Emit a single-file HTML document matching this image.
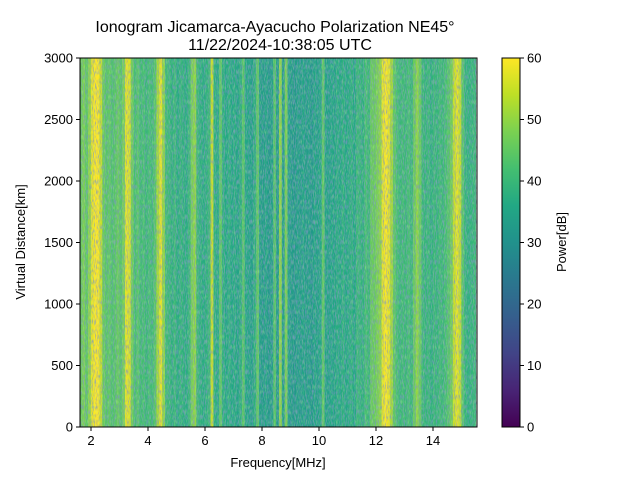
<!DOCTYPE html>
<html><head><meta charset="utf-8">
<style>body{margin:0;background:#fff}svg text{font-family:"Liberation Sans","DejaVu Sans",sans-serif;fill:#000}</style>
</head><body>
<svg id="chart" width="640" height="480" viewBox="0 0 640 480" xmlns="http://www.w3.org/2000/svg">
<defs>
<linearGradient id="vir" x1="0" y1="1" x2="0" y2="0">
<stop offset="0" stop-color="#440154"/><stop offset="0.1" stop-color="#482475"/><stop offset="0.2" stop-color="#414487"/><stop offset="0.3" stop-color="#355f8d"/><stop offset="0.4" stop-color="#2a788e"/><stop offset="0.5" stop-color="#21918c"/><stop offset="0.6" stop-color="#22a884"/><stop offset="0.7" stop-color="#44bf70"/><stop offset="0.8" stop-color="#7ad151"/><stop offset="0.9" stop-color="#bddf26"/><stop offset="1" stop-color="#fde725"/>
</linearGradient>
<filter id="noise" x="0" y="0" width="100%" height="100%">
<feTurbulence type="fractalNoise" baseFrequency="0.9 0.2" numOctaves="2" seed="3"/>
<feColorMatrix type="matrix" values="0 0 0 0 0.2  0 0 0 0 0.3  0 0 0 0 0.55  0 0 0 2.4 -1.05"/>
</filter>
<filter id="noise2" x="0" y="0" width="100%" height="100%">
<feTurbulence type="fractalNoise" baseFrequency="0.9 0.2" numOctaves="2" seed="11"/>
<feColorMatrix type="matrix" values="0 0 0 0 0.5  0 0 0 0 0.82  0 0 0 0 0.35  0 0 0 2.2 -1.0"/>
</filter>
<clipPath id="plotclip"><rect x="80" y="58" width="397" height="369"/></clipPath>
</defs>
<text x="275" y="32" font-size="16" text-anchor="middle">Ionogram Jicamarca-Ayacucho Polarization NE45°</text>
<text x="280" y="50" font-size="16" text-anchor="middle">11/22/2024-10:38:05 UTC</text>
<g id="heat" clip-path="url(#plotclip)"></g>
<rect x="80" y="58" width="397" height="369" filter="url(#noise2)" opacity="0.5"/>
<rect x="80" y="58" width="397" height="369" filter="url(#noise)" opacity="0.8"/>
<rect x="80" y="58" width="397" height="369" fill="none" stroke="#000" stroke-width="1"/>
<g id="xt"></g>
<g id="yt"></g>
<text x="278" y="467" font-size="13" text-anchor="middle">Frequency[MHz]</text>
<text transform="translate(25,242) rotate(-90)" font-size="13" text-anchor="middle">Virtual Distance[km]</text>
<rect x="502" y="58" width="18" height="369" fill="url(#vir)" stroke="#000" stroke-width="1"/>
<g id="ct"></g>
<text transform="translate(566,242) rotate(-90)" font-size="13" text-anchor="middle">Power[dB]</text>
</svg>
<script>
const freqStart = 1.6, freqStep = 0.1;
const power = [44,46,48,45,50,58,60,60,55,46,44,45,43,44,46,44,48,58,57,47,42,44,41,42,40,42,41,44,52,58,50,41,40,38,40,37,39,38,37,40,48,50,40,38,37,38,40,55,38,37,45,38,36,38,36,37,35,38,44,36,35,34,38,45,34,33,35,32,34,44,33,50,34,48,34,33,32,34,33,35,33,34,32,35,34,36,45,35,34,36,35,37,36,38,36,37,38,36,40,39,38,42,40,46,46,48,50,58,60,58,52,45,42,40,41,40,42,40,46,50,46,40,39,40,38,40,39,41,40,42,44,47,55,58,55,44,39,38,39,40];
const xTicks = [2,4,6,8,10,12,14];
const yTicks = [0,500,1000,1500,2000,2500,3000];
const cTicks = [0,10,20,30,40,50,60];
const X0=80,X1=477,Y0=427,Y1=58;
const fx = f => 91 + (f-2)*28.5;
const fy = d => Y0 - d/3000*(Y0-Y1);
const cy = v => Y0 - v/60*(Y0-Y1);
const stops=["#440154","#482475","#414487","#355f8d","#2a788e","#21918c","#22a884","#44bf70","#7ad151","#bddf26","#fde725"];
function vir(v){let t=Math.max(0,Math.min(1,v/60))*10;let i=Math.min(9,Math.floor(t)),u=t-i;
const a=stops[i],b=stops[i+1];const h=(s,k)=>parseInt(s.substr(1+2*k,2),16);
return "rgb("+[0,1,2].map(k=>Math.round(h(a,k)+(h(b,k)-h(a,k))*u)).join(",")+")";}
const NS="http://www.w3.org/2000/svg";
const heat=document.getElementById("heat");
power.forEach((p,i)=>{const f=freqStart+i*freqStep;
const r=document.createElementNS(NS,"rect");


const xa=fx(f)-3,xb=fx(f+freqStep)-3;
r.setAttribute("x",xa);r.setAttribute("width",xb-xa+0.5);r.setAttribute("y",Y1);r.setAttribute("height",Y0-Y1);
r.setAttribute("fill",vir(p));heat.appendChild(r);});
function tick(g,x1,y1,x2,y2,tx,ty,label,anchor){
const l=document.createElementNS(NS,"line");


l.setAttribute("x1",x1);l.setAttribute("y1",y1);l.setAttribute("x2",x2);l.setAttribute("y2",y2);l.setAttribute("stroke","#000");g.appendChild(l);
const t=document.createElementNS(NS,"text");


t.setAttribute("x",tx);t.setAttribute("y",ty);t.setAttribute("font-size","13");t.setAttribute("text-anchor",anchor);t.textContent=label;g.appendChild(t);}
const xt=document.getElementById("xt"),yt=document.getElementById("yt"),ct=document.getElementById("ct");
xTicks.forEach(v=>tick(xt,fx(v),Y0,fx(v),Y0+4,fx(v),Y0+18,v,"middle"));
yTicks.forEach(v=>tick(yt,X0,fy(v),X0-4,fy(v),X0-7,fy(v)+4.5,v,"end"));
cTicks.forEach(v=>tick(ct,520,cy(v),524,cy(v),527,cy(v)+4.5,v,"start"));
</script>
</body></html>
